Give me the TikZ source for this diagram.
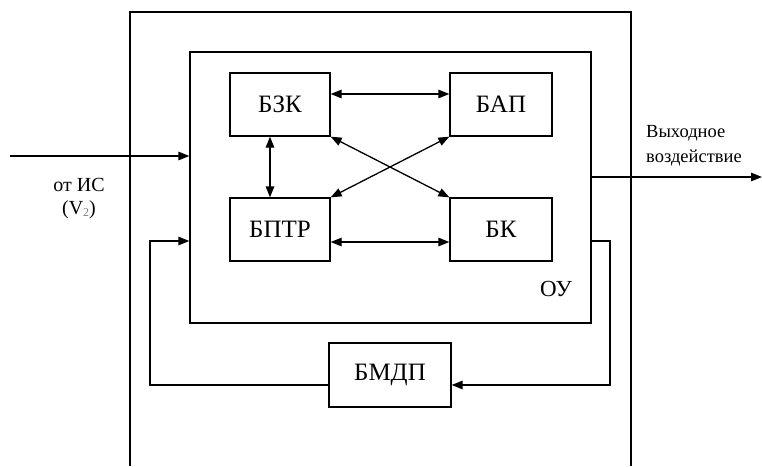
\documentclass[tikz,border=0pt]{standalone}
\usepackage{fontspec}
\setmainfont{Liberation Serif}
\usetikzlibrary{arrows.meta,calc,positioning}
\tikzset{
  blok/.style={draw,line width=1.3pt,minimum width=100pt,minimum height=63pt,
    inner sep=0pt,font=\fontsize{25}{27}\selectfont},
  note/.style={inner sep=0pt,font=\fontsize{18.5}{25}\selectfont},
  link/.style={line width=1.3pt}
}

\begin{document}
\begin{tikzpicture}[x=1pt,y=-1pt,>={Triangle[length=11pt,width=8.5pt]}]
\useasboundingbox (0,0) rectangle (762,466);
% outer frame, open at the bottom
\draw[link] (130,466) -- (130,12) -- (631,12) -- (631,466);
% object of control
\node[draw,line width=1.3pt,minimum width=401pt,minimum height=271pt,inner sep=0pt] (ou) at (390.5,187.5) {};
\node[note,font=\fontsize{23}{25}\selectfont] (oulabel) at (556,289) {ОУ};

\node[blok] (bzk) at (280,104.5) {БЗК};
\node[blok,minimum width=102pt] (bap) at (501,104.5) {БАП};
\node[blok] (bptr) at (280,229.5) {БПТР};
\node[blok,minimum width=102pt] (bk) at (501,229.5) {БК};
\node[blok,minimum width=122pt,minimum height=64pt] (bmdp) at (390,375) {БМДП};

\draw[link,<->] ([yshift=10.5pt]bzk.east) -- ([yshift=10.5pt]bap.west);
\draw[link,<->] ([yshift=-12.5pt]bptr.east) -- ([yshift=-12.5pt]bk.west);
\draw[link,<->] ([xshift=-10pt]bzk.south) -- ([xshift=-10pt]bptr.north);
\draw[link,<->] (bzk.south east) -- (bk.north west);
\draw[link,<->] (bap.south west) -- (bptr.north east);

% input and output
\coordinate (src) at (10,156);
\coordinate (dst) at (762,177);
\draw[link,->] (src) -- (src -| ou.west);
\draw[link,->] (dst -| ou.east) -- (dst);
\node[note,align=center,font=\fontsize{20}{23}\selectfont] (srclabel) at (79,199) {от ИС\\(V{\color{gray}\fontsize{12}{12}\selectfont\raisebox{-2pt}{2}})};
\node[note,align=left,anchor=west] (dstlabel) at (646,145.5) {Выходное\\воздействие};

% feedback loop
\coordinate (fbl) at (150,241);
\coordinate (fbr) at (610,241);
\draw[link,->] ([yshift=-10pt]bmdp.west) -| (fbl) -- (fbl -| ou.west);
\draw[link,->] (fbr -| ou.east) -- (fbr) |- ([yshift=-10pt]bmdp.east);
\end{tikzpicture}
\end{document}
